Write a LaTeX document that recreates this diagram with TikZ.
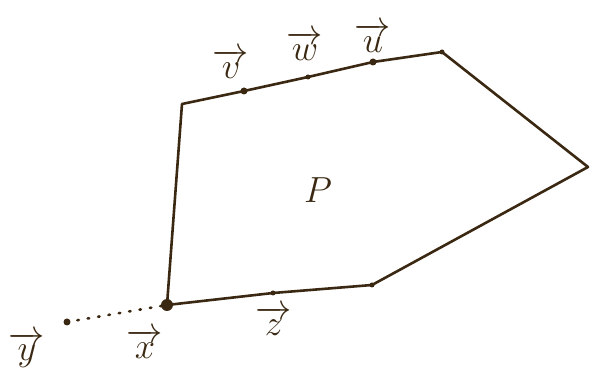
\documentclass[tikz,border=0pt]{standalone}
\usepackage{amsmath}
\definecolor{ink}{HTML}{3A2812}
\tikzset{
  edge/.style={draw=ink, line width=2.6pt, line join=round},
  dotpt/.style={circle, fill=ink, inner sep=0pt, minimum size=7pt},
  bigpt/.style={circle, fill=ink, inner sep=0pt, minimum size=12pt},
  lbl/.style={text=ink, font=\huge, scale=1.75, inner sep=0pt}
}
\begin{document}
\begin{tikzpicture}[x=1pt,y=-1pt]
\useasboundingbox (0,0) rectangle (590,382);
\coordinate (X) at (167,305);
\coordinate (TL) at (182,104);
\coordinate (V) at (244,91);
\coordinate (W) at (308,77);
\coordinate (U) at (373,62);
\coordinate (TR) at (442,52);
\coordinate (R) at (588,167);
\coordinate (BR) at (372,285);
\coordinate (Z) at (273,293);
\coordinate (Y) at (67,322);
\draw[edge] (X) -- (TL) -- (V) -- (W) -- (U) -- (TR) -- (R) -- (BR) -- (Z) -- cycle;
\draw[ink, line width=2.6pt, dash pattern=on 1.5pt off 9pt, line cap=round] (Y) -- (X);
\node[bigpt] (xp) at (X) {};
\node[dotpt] (yp) at (Y) {};
\node[dotpt] (vp) at (V) {};
\node[dotpt, minimum size=5pt] (wp) at (W) {};
\node[dotpt] (up) at (U) {};
\node[dotpt, minimum size=5pt] (zp) at (Z) {};
\node[dotpt, minimum size=5pt] (trp) at (TR) {};
\node[dotpt, minimum size=5pt] (brp) at (BR) {};
\node[lbl] (lv) at (231,64) {$\overrightarrow{v}$};
\node[lbl] (lw) at (305,46) {$\overrightarrow{w}$};
\node[lbl] (lu) at (373,38) {$\overrightarrow{u}$};
\node[lbl] (lz) at (274,321) {$\overrightarrow{z}$};
\node[lbl] (lx) at (145,344) {$\overrightarrow{x}$};
\node[lbl] (ly) at (27,350) {$\overrightarrow{y}$};
\node[lbl] (lp) at (318,190) {$P$};
\end{tikzpicture}
\end{document}
